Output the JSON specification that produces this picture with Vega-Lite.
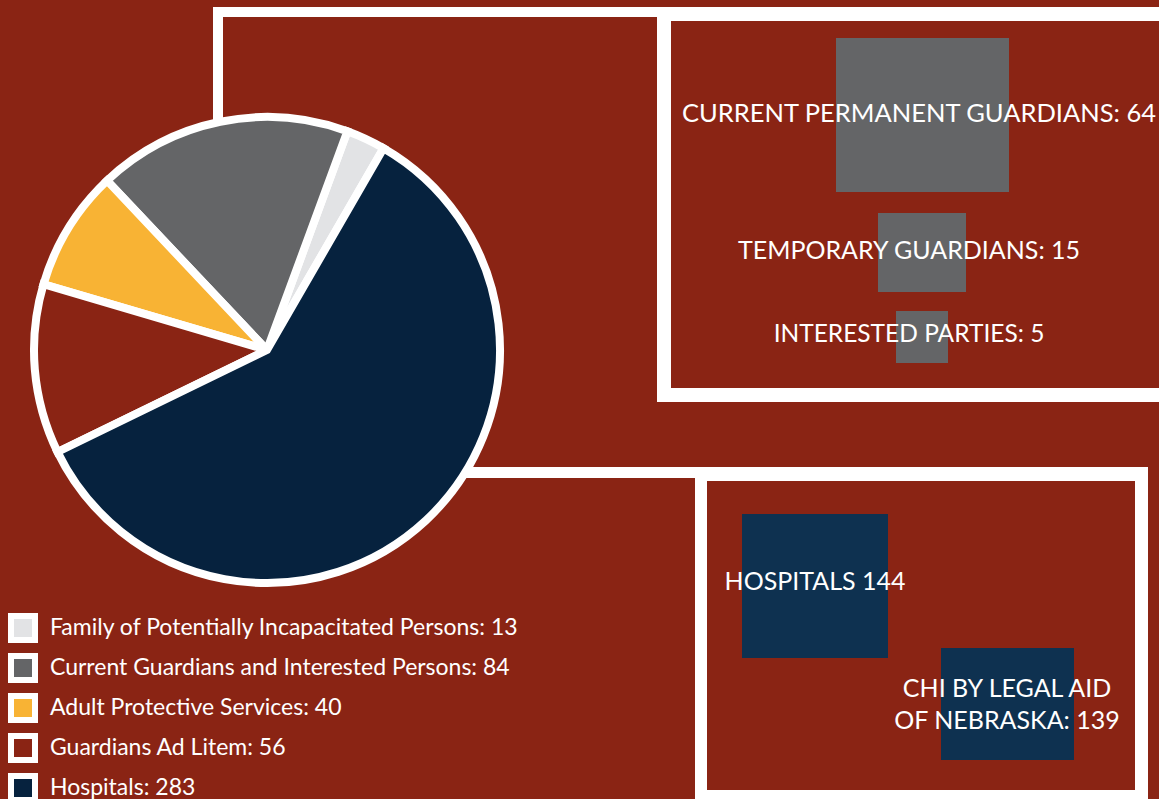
{
  "$schema": "https://vega.github.io/schema/vega-lite/v6.json",
  "width": 1159,
  "height": 799,
  "autosize": {"type": "fit", "contains": "padding"},
  "padding": 0,
  "background": "#8A2414",
  "config": {"view": {"stroke": null}},
  "datasets": {
    "pie": [
      {"category": "Family of Potentially Incapacitated Persons", "count": 13, "label": "Family of Potentially Incapacitated Persons: 13", "slice": 5},
      {"category": "Current Guardians and Interested Persons", "count": 84, "label": "Current Guardians and Interested Persons: 84", "slice": 4},
      {"category": "Adult Protective Services", "count": 40, "label": "Adult Protective Services: 40", "slice": 3},
      {"category": "Guardians Ad Litem", "count": 56, "label": "Guardians Ad Litem: 56", "slice": 2},
      {"category": "Hospitals", "count": 283, "label": "Hospitals: 283", "slice": 1}
    ],
    "breakdown": [
      {"parent": "Current Guardians and Interested Persons", "label": "CURRENT PERMANENT GUARDIANS: 64", "count": 64},
      {"parent": "Current Guardians and Interested Persons", "label": "TEMPORARY GUARDIANS: 15", "count": 15},
      {"parent": "Current Guardians and Interested Persons", "label": "INTERESTED PARTIES: 5", "count": 5},
      {"parent": "Hospitals", "label": "HOSPITALS 144", "count": 144},
      {"parent": "Hospitals", "label": "CHI BY LEGAL AID\nOF NEBRASKA: 139", "count": 139}
    ]
  },
  "layer": [
    {"data": {"values": [{}]}, "mark": {"type": "rect", "color": "white"},
     "encoding": {"x": {"datum": 213, "type": "quantitative", "scale": {"domain": [0, 1159], "nice": false, "zero": false}, "axis": null}, "x2": {"datum": 223},
                  "y": {"datum": 7, "type": "quantitative", "scale": {"domain": [0, 799], "nice": false, "zero": false, "reverse": true}, "axis": null}, "y2": {"datum": 250}}},
    {"data": {"values": [{}]}, "mark": {"type": "rect", "color": "white"},
     "encoding": {"x": {"datum": 213, "type": "quantitative", "scale": {"domain": [0, 1159], "nice": false, "zero": false}, "axis": null}, "x2": {"datum": 1159},
                  "y": {"datum": 7, "type": "quantitative", "scale": {"domain": [0, 799], "nice": false, "zero": false, "reverse": true}, "axis": null}, "y2": {"datum": 17}}},
    {"data": {"values": [{}]}, "mark": {"type": "rect", "color": "white"},
     "encoding": {"x": {"datum": 400, "type": "quantitative", "scale": {"domain": [0, 1159], "nice": false, "zero": false}, "axis": null}, "x2": {"datum": 700},
                  "y": {"datum": 467, "type": "quantitative", "scale": {"domain": [0, 799], "nice": false, "zero": false, "reverse": true}, "axis": null}, "y2": {"datum": 478}}},
    {"data": {"values": [{}]}, "mark": {"type": "rect", "color": "white"},
     "encoding": {"x": {"datum": 657, "type": "quantitative", "scale": {"domain": [0, 1159], "nice": false, "zero": false}, "axis": null}, "x2": {"datum": 1159},
                  "y": {"datum": 7, "type": "quantitative", "scale": {"domain": [0, 799], "nice": false, "zero": false, "reverse": true}, "axis": null}, "y2": {"datum": 402}}},
    {"data": {"values": [{}]}, "mark": {"type": "rect", "color": "#8A2414"},
     "encoding": {"x": {"datum": 671, "type": "quantitative", "scale": {"domain": [0, 1159], "nice": false, "zero": false}, "axis": null}, "x2": {"datum": 1159},
                  "y": {"datum": 21, "type": "quantitative", "scale": {"domain": [0, 799], "nice": false, "zero": false, "reverse": true}, "axis": null}, "y2": {"datum": 388}}},
    {"data": {"values": [{}]}, "mark": {"type": "rect", "color": "white"},
     "encoding": {"x": {"datum": 695, "type": "quantitative", "scale": {"domain": [0, 1159], "nice": false, "zero": false}, "axis": null}, "x2": {"datum": 1148},
                  "y": {"datum": 467, "type": "quantitative", "scale": {"domain": [0, 799], "nice": false, "zero": false, "reverse": true}, "axis": null}, "y2": {"datum": 799}}},
    {"data": {"values": [{}]}, "mark": {"type": "rect", "color": "#8A2414"},
     "encoding": {"x": {"datum": 707, "type": "quantitative", "scale": {"domain": [0, 1159], "nice": false, "zero": false}, "axis": null}, "x2": {"datum": 1135},
                  "y": {"datum": 481, "type": "quantitative", "scale": {"domain": [0, 799], "nice": false, "zero": false, "reverse": true}, "axis": null}, "y2": {"datum": 790}}},

    {"data": {"name": "breakdown"}, "transform": [{"filter": "datum.count == 64"}], "mark": {"type": "rect", "color": "#646567"},
     "encoding": {"x": {"datum": 836, "type": "quantitative", "scale": {"domain": [0, 1159], "nice": false, "zero": false}, "axis": null}, "x2": {"datum": 1009},
                  "y": {"datum": 38, "type": "quantitative", "scale": {"domain": [0, 799], "nice": false, "zero": false, "reverse": true}, "axis": null}, "y2": {"datum": 192}}},
    {"data": {"name": "breakdown"}, "transform": [{"filter": "datum.count == 15"}], "mark": {"type": "rect", "color": "#646567"},
     "encoding": {"x": {"datum": 878, "type": "quantitative", "scale": {"domain": [0, 1159], "nice": false, "zero": false}, "axis": null}, "x2": {"datum": 966},
                  "y": {"datum": 213, "type": "quantitative", "scale": {"domain": [0, 799], "nice": false, "zero": false, "reverse": true}, "axis": null}, "y2": {"datum": 292}}},
    {"data": {"name": "breakdown"}, "transform": [{"filter": "datum.count == 5"}], "mark": {"type": "rect", "color": "#646567"},
     "encoding": {"x": {"datum": 896, "type": "quantitative", "scale": {"domain": [0, 1159], "nice": false, "zero": false}, "axis": null}, "x2": {"datum": 948},
                  "y": {"datum": 311, "type": "quantitative", "scale": {"domain": [0, 799], "nice": false, "zero": false, "reverse": true}, "axis": null}, "y2": {"datum": 363}}},
    {"data": {"name": "breakdown"}, "transform": [{"filter": "datum.count == 144"}], "mark": {"type": "rect", "color": "#0E3150"},
     "encoding": {"x": {"datum": 742, "type": "quantitative", "scale": {"domain": [0, 1159], "nice": false, "zero": false}, "axis": null}, "x2": {"datum": 888},
                  "y": {"datum": 514, "type": "quantitative", "scale": {"domain": [0, 799], "nice": false, "zero": false, "reverse": true}, "axis": null}, "y2": {"datum": 658}}},
    {"data": {"name": "breakdown"}, "transform": [{"filter": "datum.count == 139"}], "mark": {"type": "rect", "color": "#0E3150"},
     "encoding": {"x": {"datum": 941, "type": "quantitative", "scale": {"domain": [0, 1159], "nice": false, "zero": false}, "axis": null}, "x2": {"datum": 1074},
                  "y": {"datum": 648, "type": "quantitative", "scale": {"domain": [0, 799], "nice": false, "zero": false, "reverse": true}, "axis": null}, "y2": {"datum": 760}}},

    {"data": {"name": "breakdown"}, "transform": [{"filter": "datum.count == 64"}], "mark": {"type": "text", "font": "Lato", "fontSize": 25.5, "color": "white", "align": "center", "baseline": "middle"},
     "encoding": {"x": {"datum": 919, "type": "quantitative", "scale": {"domain": [0, 1159], "nice": false, "zero": false}, "axis": null},
                  "y": {"datum": 114, "type": "quantitative", "scale": {"domain": [0, 799], "nice": false, "zero": false, "reverse": true}, "axis": null}, "text": {"field": "label"}}},
    {"data": {"name": "breakdown"}, "transform": [{"filter": "datum.count == 15"}], "mark": {"type": "text", "font": "Lato", "fontSize": 25, "color": "white", "align": "center", "baseline": "middle"},
     "encoding": {"x": {"datum": 909, "type": "quantitative", "scale": {"domain": [0, 1159], "nice": false, "zero": false}, "axis": null},
                  "y": {"datum": 251, "type": "quantitative", "scale": {"domain": [0, 799], "nice": false, "zero": false, "reverse": true}, "axis": null}, "text": {"field": "label"}}},
    {"data": {"name": "breakdown"}, "transform": [{"filter": "datum.count == 5"}], "mark": {"type": "text", "font": "Lato", "fontSize": 24.5, "color": "white", "align": "center", "baseline": "middle"},
     "encoding": {"x": {"datum": 909, "type": "quantitative", "scale": {"domain": [0, 1159], "nice": false, "zero": false}, "axis": null},
                  "y": {"datum": 335, "type": "quantitative", "scale": {"domain": [0, 799], "nice": false, "zero": false, "reverse": true}, "axis": null}, "text": {"field": "label"}}},
    {"data": {"name": "breakdown"}, "transform": [{"filter": "datum.count == 144"}], "mark": {"type": "text", "font": "Lato", "fontSize": 25, "color": "white", "align": "center", "baseline": "middle"},
     "encoding": {"x": {"datum": 815, "type": "quantitative", "scale": {"domain": [0, 1159], "nice": false, "zero": false}, "axis": null},
                  "y": {"datum": 582, "type": "quantitative", "scale": {"domain": [0, 799], "nice": false, "zero": false, "reverse": true}, "axis": null}, "text": {"field": "label"}}},
    {"data": {"name": "breakdown"}, "transform": [{"filter": "datum.count == 139"}], "mark": {"type": "text", "font": "Lato", "fontSize": 25, "color": "white", "align": "center", "baseline": "middle", "lineBreak": "\n", "lineHeight": 32},
     "encoding": {"x": {"datum": 1007, "type": "quantitative", "scale": {"domain": [0, 1159], "nice": false, "zero": false}, "axis": null},
                  "y": {"datum": 689, "type": "quantitative", "scale": {"domain": [0, 799], "nice": false, "zero": false, "reverse": true}, "axis": null}, "text": {"field": "label"}}},

    {"data": {"values": [{}]}, "mark": {"type": "circle", "size": 186265, "color": "white", "opacity": 1},
     "encoding": {"x": {"datum": 267, "type": "quantitative", "scale": {"domain": [0, 1159], "nice": false, "zero": false}, "axis": null},
                  "y": {"datum": 350, "type": "quantitative", "scale": {"domain": [0, 799], "nice": false, "zero": false, "reverse": true}, "axis": null}}},
    {"data": {"name": "pie"}, "mark": {"type": "arc", "radius": 233, "stroke": "white", "strokeWidth": 8},
     "encoding": {
       "x": {"datum": 267, "type": "quantitative", "scale": {"domain": [0, 1159], "nice": false, "zero": false}, "axis": null},
       "y": {"datum": 350, "type": "quantitative", "scale": {"domain": [0, 799], "nice": false, "zero": false, "reverse": true}, "axis": null},
       "theta": {"field": "count", "type": "quantitative", "stack": true, "scale": {"range": [0.5236, 6.8068]}},
       "order": {"field": "slice", "type": "quantitative"},
       "color": {"field": "label", "type": "nominal",
         "scale": {"domain": ["Family of Potentially Incapacitated Persons: 13", "Current Guardians and Interested Persons: 84", "Adult Protective Services: 40", "Guardians Ad Litem: 56", "Hospitals: 283"],
                   "range": ["#E2E3E5", "#646567", "#F8B334", "#8A2414", "#06223E"]},
         "legend": {"title": null, "orient": "none", "legendX": 8, "legendY": 613, "padding": 0,
                    "symbolType": "square", "symbolSize": 576, "symbolStrokeColor": "white", "symbolStrokeWidth": 6, "symbolOpacity": 1,
                    "labelFont": "Lato", "labelFontSize": 23, "labelColor": "white", "labelLimit": 0, "labelOffset": 12, "rowPadding": -8,
                    "encode": {"symbols": {"update": {"stroke": {"value": "white"}, "strokeWidth": {"value": 6}}}}}
       }
     }}
  ]
}
